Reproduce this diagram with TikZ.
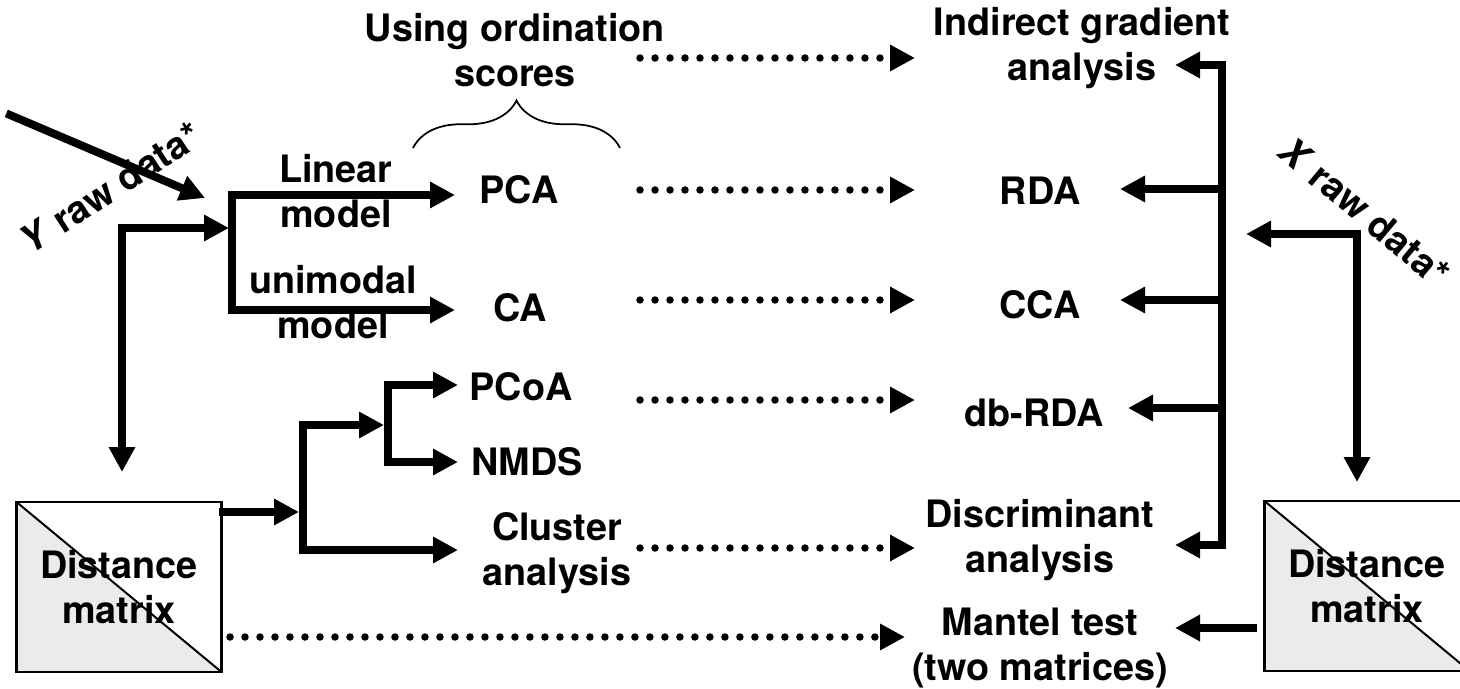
\documentclass[tikz,border=0pt]{standalone}
\usepackage{fontspec}
\setmainfont{TeX Gyre Heros}
\usetikzlibrary{arrows.meta,decorations.pathreplacing}

\begin{document}
\begin{tikzpicture}[x=0.02cm,y=-0.02cm,
  font=\bfseries\fontsize{21.5}{25.6}\selectfont]
\tikzset{
  lbl/.style={align=center, inner sep=0pt},
  bar/.style={line width=0.16cm, line cap=rect},
  link/.style={line width=0.16cm, line cap=rect,
    -{Triangle[length=0.5cm,width=0.5cm]}},
  dots/.style={line width=0.15cm, line cap=round,
    dash pattern=on 0pt off 0.3cm,
    -{Triangle[length=0.5cm,width=0.5cm]}},
  dmat/.style={draw, line width=0.045cm, minimum width=4.1cm,
    minimum height=3.4cm, align=center, inner sep=0pt,
    path picture={
      \fill[gray!16] (path picture bounding box.north west)
        -- (path picture bounding box.south east)
        -- (path picture bounding box.south west) -- cycle;
      \draw[line width=0.04cm] (path picture bounding box.north west)
        -- (path picture bounding box.south east);}}
}
\useasboundingbox (0,0) rectangle (1460,689);

% distance matrices
\node[dmat] (ydist) at (119,587) {Distance\\matrix};
\node[dmat] (xdist) at (1367,586) {Distance\\matrix};

% left side
\node[lbl, rotate=33] (yraw) at (110,188) {\textit{Y} raw data*};
\node[lbl] (linear) at (336,191) {Linear\\model};
\node[lbl] (unimodal) at (333,302) {unimodal\\model};

% ordination / clustering
\node[lbl] (ord) at (515,50) {Using ordination\\scores};
\node[lbl] (pca) at (519,190) {PCA};
\node[lbl] (ca) at (520,308) {CA};
\node[lbl] (pcoa) at (521,387) {PCoA};
\node[lbl] (nmds) at (527,462) {NMDS};
\node[lbl] (cluster) at (557,553) {Cluster\\analysis};

% constrained methods
\node[lbl] (indirect) at (1082,48) {Indirect gradient\\analysis};
\node[lbl] (rda) at (1040,191) {RDA};
\node[lbl] (cca) at (1040,305) {CCA};
\node[lbl] (dbrda) at (1034,413) {db-RDA};
\node[lbl] (discrim) at (1040,540) {Discriminant\\analysis};
\node[lbl] (mantel) at (1040,648) {Mantel test\\(two matrices)};
\node[lbl, rotate=-40] (xraw) at (1365,212) {\textit{X} raw data*};

% brace
\coordinate (braceL) at (413,148);
\coordinate (braceR) at (620,148);
\draw[decorate, decoration={brace, amplitude=0.95cm}, line width=0.035cm]
  (braceL) -- (braceR);

% joints
\coordinate (yin) at (10,115);
\coordinate (yhit) at (205,198);
\coordinate (ycorner) at (122,228);
\coordinate (s1in) at (229,228);
\coordinate (ydown) at (122,472);
\coordinate (s1top) at (232,195);
\coordinate (s1bot) at (232,310);
\coordinate (pcain) at (455,195);
\coordinate (cain) at (455,310);
\coordinate (s2in) at (299,512);
\coordinate (s2top) at (303,425);
\coordinate (s2bot) at (303,550);
\coordinate (s3in) at (384,425);
\coordinate (s3top) at (388,385);
\coordinate (s3bot) at (388,462);
\coordinate (pcoain) at (458,385);
\coordinate (nmdsin) at (458,462);
\coordinate (clusin) at (458,550);
\coordinate (rtop) at (1222,65);
\coordinate (rbot) at (1222,545);
\coordinate (igin) at (1175,65);
\coordinate (rdain) at (1120,189);
\coordinate (ccain) at (1120,300);
\coordinate (dbin) at (1128,408);
\coordinate (discin) at (1175,545);
\coordinate (xcorner) at (1357,234);
\coordinate (xleft) at (1246,234);
\coordinate (xdown) at (1357,482);
\coordinate (mantin) at (1175,628);

% Y side
\draw[link] (yin) -- (yhit);
\draw[link] (ycorner) -- (s1in);
\draw[link] (ycorner) -- (ydown);
\draw[bar] (s1top) -- (s1bot);
\draw[link] (s1top) -- (pcain);
\draw[link] (s1bot) -- (cain);
\draw[link] (ydist.east |- s2in) -- (s2in);
\draw[bar] (s2top) -- (s2bot);
\draw[link] (s2top) -- (s3in);
\draw[link] (s2bot) -- (clusin);
\draw[bar] (s3top) -- (s3bot);
\draw[link] (s3top) -- (pcoain);
\draw[link] (s3bot) -- (nmdsin);

% X side
\draw[bar] (rtop) -- (rbot);
\draw[link] (rtop) -- (igin);
\draw[link] (rtop |- rdain) -- (rdain);
\draw[link] (rtop |- ccain) -- (ccain);
\draw[link] (rtop |- dbin) -- (dbin);
\draw[link] (rbot) -- (discin);
\draw[link] (xcorner) -- (xleft);
\draw[link] (xcorner) -- (xdown);
\draw[link, shorten <=0.2cm] (xdist.west |- mantin) -- (mantin);

% dotted links
\foreach \n/\xa/\xb/\y in {1/640/915/58, 2/640/915/190, 3/640/915/300,
    4/640/915/400, 5/640/915/548, 6/230/905/637}{
  \coordinate (ds\n) at (\xa,\y);
  \coordinate (de\n) at (\xb,\y);
  \draw[dots] (ds\n) -- (de\n);
}
\end{tikzpicture}
\end{document}
